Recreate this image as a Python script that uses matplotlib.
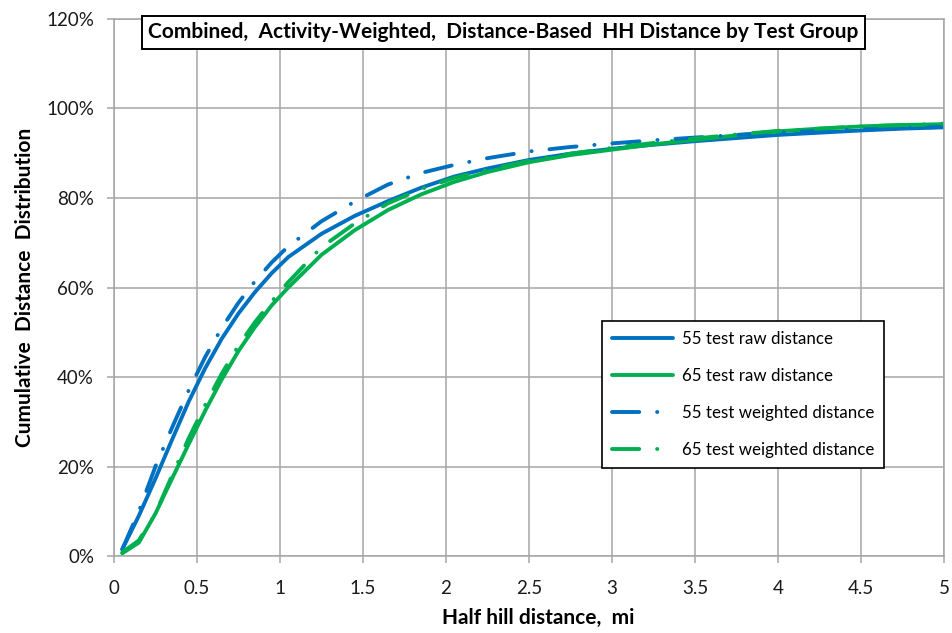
import matplotlib
matplotlib.use("Agg")
import matplotlib.pyplot as plt
from matplotlib.ticker import FuncFormatter, MultipleLocator

plt.rcParams['font.family'] = ['Lato', 'DejaVu Sans']

distance_mi = [0.05, 0.15, 0.25, 0.35, 0.45, 0.55, 0.65, 0.75, 0.85, 0.95, 1.05,
               1.25, 1.45, 1.65, 1.85, 2.05, 2.25, 2.5, 2.75, 3.0, 3.25, 3.5,
               3.75, 4.0, 4.25, 4.5, 4.75, 5.0]

raw_55 = [1.5, 9, 17.3, 26, 34.5, 42, 48.6, 54.2, 59, 63.2, 66.8,
          72, 76, 79.3, 82.3, 84.8, 86.6, 88.5, 89.9, 91, 91.9, 92.7,
          93.4, 94.1, 94.6, 95.1, 95.5, 95.8]
raw_65 = [0.6, 3, 9.5, 17.3, 25, 32.5, 39.5, 45.8, 51.2, 56, 60,
          67.3, 72.8, 77.3, 80.8, 83.6, 85.8, 88, 89.6, 90.8, 92, 93,
          94, 94.9, 95.5, 96, 96.3, 96.5]
weighted_55 = [1.5, 10, 20, 28.7, 37, 44.5, 51, 56.6, 61.4, 65.6, 69.2,
               74.8, 79.2, 83, 85.6, 87.4, 88.9, 90.4, 91.4, 92.2, 92.9, 93.5,
               94.1, 94.6, 95.0, 95.3, 95.6, 95.9]
weighted_65 = [0.8, 3.5, 9.5, 18, 26.3, 33.8, 40.8, 47, 52.3, 56.9, 61.2,
               69, 74.3, 78.8, 82, 84.5, 86.3, 88.3, 89.9, 91.2, 92.3, 93.3,
               94.2, 95, 95.5, 96, 96.3, 96.6]

series_labels = ["55 test raw distance", "65 test raw distance",
                 "55 test weighted distance", "65 test weighted distance"]
title_text = "Combined,  Activity-Weighted,  Distance-Based  HH Distance by Test Group"
x_label = "Half hill distance,  mi"
y_label = "Cumulative  Distance  Distribution"

blue = "#0070C0"
green = "#00B050"
dashdot = (0, (7, 4.6, 0.05, 4.6))

fig = plt.figure(figsize=(9.52, 6.33), dpi=100)
ax = fig.add_axes([0.1197, 0.1216, 0.8719, 0.8484])

lw = 2.8
ax.plot(distance_mi, raw_55, color=blue, lw=lw, label=series_labels[0],
        solid_capstyle='round', solid_joinstyle='round')
ax.plot(distance_mi, raw_65, color=green, lw=lw, label=series_labels[1],
        solid_capstyle='round', solid_joinstyle='round')
ax.plot(distance_mi, weighted_55, color=blue, lw=lw, ls=dashdot, label=series_labels[2],
        dash_capstyle='round', dash_joinstyle='round')
ax.plot(distance_mi, weighted_65, color=green, lw=lw, ls=dashdot, label=series_labels[3],
        dash_capstyle='round', dash_joinstyle='round')

ax.set_xlim(0, 5)
ax.set_ylim(0, 120)
ax.xaxis.set_major_locator(MultipleLocator(0.5))
ax.yaxis.set_major_locator(MultipleLocator(20))
ax.xaxis.set_major_formatter(FuncFormatter(lambda v, p: f"{v:g}"))
ax.yaxis.set_major_formatter(FuncFormatter(lambda v, p: f"{v:.0f}%"))
ax.grid(True, color="#A6A6A6", lw=1.1)
ax.set_axisbelow(True)
for s in ax.spines.values():
    s.set_color("#A6A6A6")
    s.set_linewidth(1.1)
ax.tick_params(axis='both', colors="#A6A6A6", labelcolor="#1a1a1a", labelsize=13.5,
               length=5.3, width=1.1)
ax.tick_params(axis='x', pad=12)
ax.tick_params(axis='y', pad=9)

ax.set_xlabel(x_label, fontsize=15, fontweight='bold')
ax.xaxis.set_label_coords(0.511, -0.097)
ax.set_ylabel(y_label, fontsize=15, fontweight='bold')
ax.yaxis.set_label_coords(-0.095, 0.5)

ax.text(0.469, 0.975, title_text, transform=ax.transAxes, ha='center', va='center',
        fontsize=15, fontweight='bold', zorder=10,
        bbox=dict(boxstyle='square,pad=0.3', fc='white', ec='black', lw=1.4))

leg = ax.legend(loc='upper left', bbox_to_anchor=(0.588, 0.4376), borderaxespad=0,
                fontsize=12.2, frameon=True, fancybox=False, edgecolor='black', framealpha=1,
                handlelength=3.6, labelspacing=1.25, borderpad=0.58, handletextpad=0.55)
leg.get_frame().set_linewidth(1.2)

fig.savefig("out.png", dpi=100)
